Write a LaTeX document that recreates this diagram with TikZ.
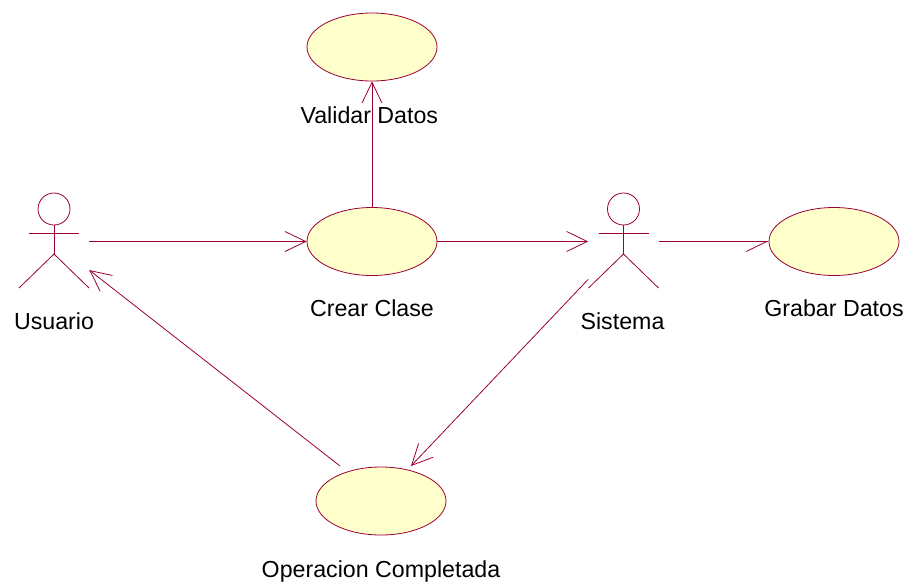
\documentclass[tikz,border=0pt]{standalone}
\usepackage{fontspec}
\setmainfont{Liberation Sans}
\usetikzlibrary{shapes.geometric, arrows.meta}
\definecolor{rosered}{HTML}{990033}
\definecolor{roseyellow}{HTML}{FFFFCC}
\tikzset{x=0.75pt, y=-0.75pt, node distance=60pt,
	open tip/.tip={Straight Barb[length=15.5pt, width=15pt]},
	half tip/.tip={Straight Barb[length=15.5pt, width=15pt, harpoon, swap]},
	usecase/.style={ellipse, draw=rosered, fill=roseyellow, line width=0.6pt, inner sep=0pt, minimum width=97.5pt, minimum height=51pt},
	actor/.style={inner sep=0pt, minimum width=52.5pt, minimum height=71.25pt},
	caption/.style={inner sep=0pt, font=\fontsize{17.4}{20}\selectfont},
	flow/.style={rosered, line width=0.6pt}}

\begin{document}
\begin{tikzpicture}
	\useasboundingbox (0,0) rectangle (911,583);
	\node[actor] (Usuario) at (54,241.5) {};
	\node[usecase] (Crear) at (372,241.5) {};
	\node[usecase] (Validar) at (372,47) {};
	\node[actor] (Sistema) at (623.5,241.5) {};
	\node[usecase] (Grabar) at (834,241.5) {};
	\node[usecase] (Operacion) at (381,501) {};
	\node[caption, below of=Usuario] (Usuario label) {Usuario};
	\node[caption, below of=Sistema, xshift=-0.75pt] (Sistema label) {Sistema};
	\node[caption, below of=Crear, node distance=50pt] (Crear label) {Crear Clase};
	\node[caption, below of=Grabar, node distance=50pt] (Grabar label) {Grabar Datos};
	\node[caption, below of=Validar, node distance=51pt, xshift=-2pt] (Validar label) {Validar Datos};
	\node[caption, below of=Operacion, node distance=52.5pt] (Operacion label) {Operacion Completada};
	\coordinate (Operacion in) at ([shift={(30,-35)}]Operacion.center);
	\coordinate (Operacion out) at ([shift={(-41,-35)}]Operacion.center);
	\foreach \who in {Usuario, Sistema} {
		\draw[flow, shift={(\who.center)}] (0,-32.5) circle[radius=16];
		\draw[flow, shift={(\who.center)}] (0,-16.5) -- (0,12.5) (-25,-8.5) -- (25,-8.5);
		\draw[flow, shift={(\who.center)}] (-35,46.5) -- (0,12.5) -- (35,46.5);
	}
	\path[flow, -{open tip}]
		(Usuario.east) edge (Crear.west)
		(Crear.east) edge (Sistema.west)
		(Crear.north) edge (Validar.south)
		(Sistema.227) edge (Operacion in)
		(Operacion out) edge (Usuario.-39);
	\draw[flow, -{half tip}] (Sistema.east) -- (Grabar.west);
\end{tikzpicture}
\end{document}
